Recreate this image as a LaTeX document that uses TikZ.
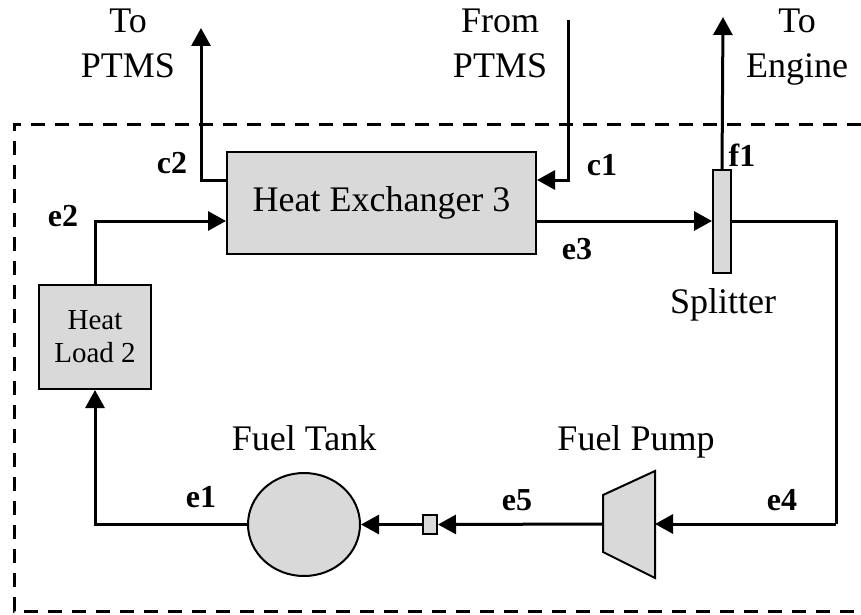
\documentclass[tikz,border=0pt]{standalone}
\usepackage{fontspec}
\setmainfont{Liberation Serif}
\usetikzlibrary{arrows.meta,shapes.geometric}

\begin{document}
\begin{tikzpicture}[x=1pt,y=-1pt,
  unit/.style={draw,line width=2pt,fill=boxgray},
  flow/.style={line width=3pt,-{Triangle[length=18pt,width=19pt]}},
  bigtext/.style={font=\fontsize{36}{45}\selectfont,align=center},
  portlabel/.style={font=\fontsize{32}{36}\selectfont\bfseries}]
\definecolor{boxgray}{HTML}{D9D9D9}
\useasboundingbox (0,0) rectangle (861,615);
\draw[line width=3pt,dash pattern=on 14pt off 10pt] (861,124) -| (14,611) -- (861,611);

\node [unit,minimum width=309,minimum height=102,font=\fontsize{36}{45}\selectfont] (hx) at (381.5,203) {Heat Exchanger 3};
\node [unit,minimum width=112,minimum height=104,align=center,font=\fontsize{29}{33}\selectfont] (load) at (95,337) {Heat\\Load 2};
\node [unit,minimum width=18,minimum height=103,inner sep=0] (split) at (722,221.5) {};
\node [unit,ellipse,minimum width=112,minimum height=103,inner sep=0] (tank) at (304,524.5) {};
\node [unit,minimum width=14,minimum height=19,inner sep=0] (valve) at (430,524.5) {};
\draw[unit] (603,495) -- (655,471) -- (655,578) -- (603,552) -- cycle;
\coordinate (pumpin) at (655,524);
\coordinate (pumpout) at (603,524);

\node [bigtext,anchor=base] (tanktxt) at (304,450) {Fuel Tank};
\node [bigtext,anchor=base] (pumptxt) at (636,450) {Fuel Pump};
\node [bigtext,anchor=base] (splittxt) at (723,313) {Splitter};
\node [bigtext,anchor=north,inner sep=0] (toptms) at (128,9) {To\\PTMS};
\node [bigtext,anchor=north,inner sep=0] (fromptms) at (500,9) {From\\PTMS};
\node [bigtext,anchor=north,inner sep=0] (toeng) at (797,9) {To\\Engine};

\coordinate (c2end) at (201,28);
\coordinate (c1start) at (568,20);
\coordinate (f1end) at (723,17);
\coordinate (loopr) at (836,524);

\draw[flow] ([yshift=23pt]hx.west) -| (c2end);
\draw[flow] (c1start) |- ([yshift=23pt]hx.east);
\draw[flow] (load.north) |- ([yshift=-18pt]hx.west);
\draw[flow] ([yshift=-18pt]hx.east) -- ([yshift=-18pt]hx.east -| split.west);
\draw[flow] (split.north) -- (f1end);
\draw[line width=3pt] (split.east) -| (loopr);
\draw[flow] (loopr) -- (pumpin);
\draw[flow] (pumpout) -- (valve.east);
\draw[flow] (valve.west) -- (tank.east);
\draw[flow] (tank.west) -| (load.south);

\foreach \lbl/\x/\y in {c2/172/163,c1/602/165,e2/63/216,e3/577/249,f1/742/155,e1/201/497,e5/517/500,e4/782/500}
{ \node [portlabel] (\lbl) at (\x,\y) {\lbl};}
\end{tikzpicture}
\end{document}
